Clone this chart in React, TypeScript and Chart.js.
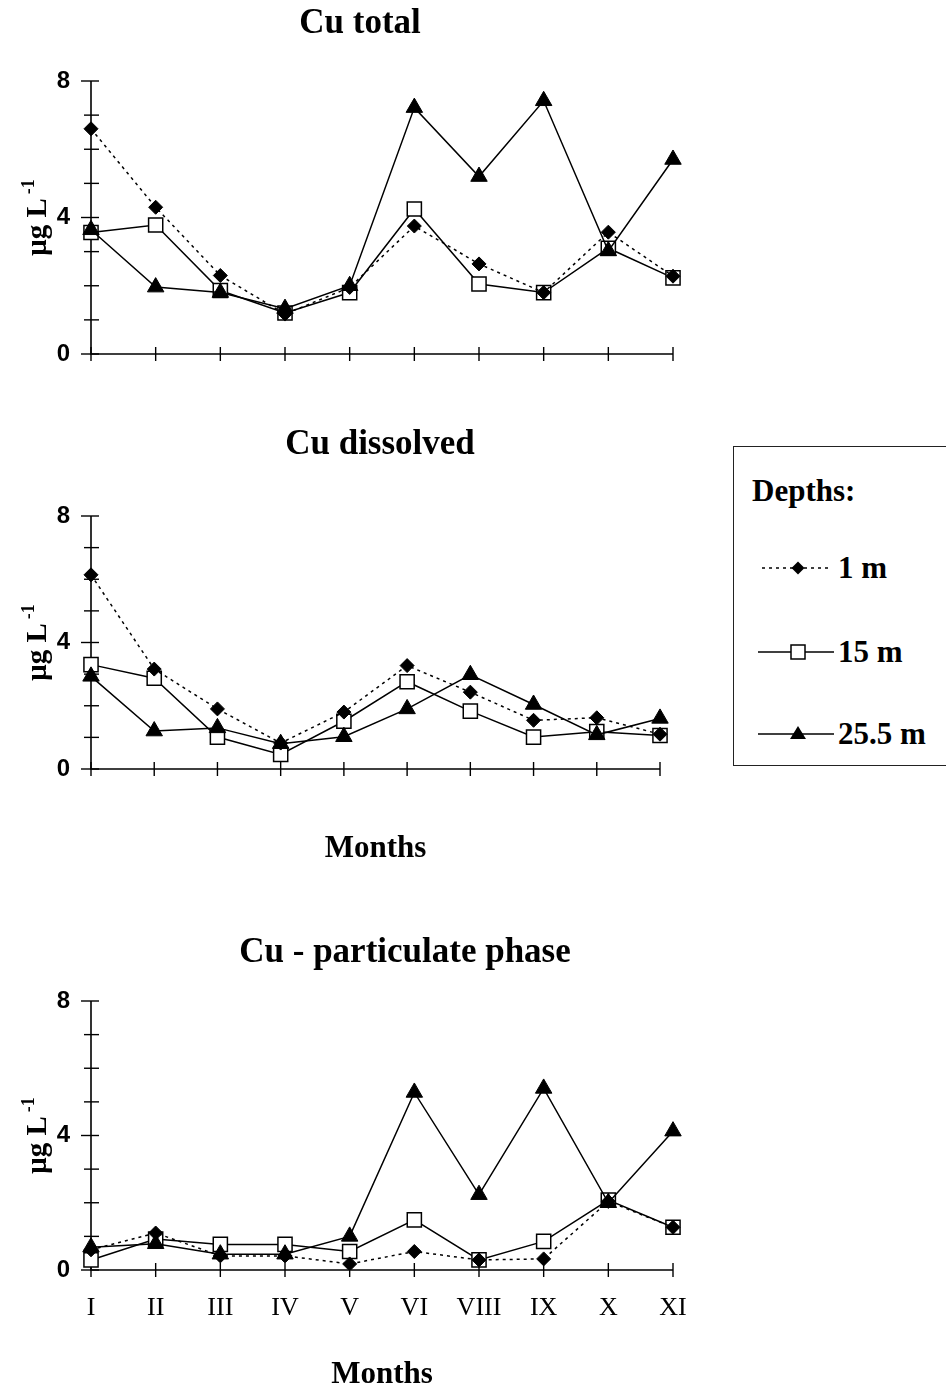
import React, { useEffect, useRef } from "react";
import { Chart, registerables } from "chart.js";
Chart.register(...registerables);

const months = ["I", "II", "III", "IV", "V", "VI", "VIII", "IX", "X", "XI"];
const yTickValues = [0, 4, 8];
const depthLabels = ["1 m", "15 m", "25.5 m"];
const panelTitles = ["Cu total", "Cu dissolved", "Cu - particulate phase"];
const xAxisTitle = "Months";
const yAxisMain = "μg L";
const yAxisSup = "-1";
const legendTitle = "Depths:";

const totalD1 = [6.6, 4.3, 2.3, 1.17, 1.95, 3.75, 2.64, 1.8, 3.57, 2.28];
const total15 = [3.56, 3.78, 1.86, 1.2, 1.8, 4.25, 2.05, 1.8, 3.1, 2.23];
const total255 = [3.64, 1.96, 1.8, 1.33, 2.0, 7.22, 5.2, 7.42, 3.02, 5.7];

const dissD1 = [6.14, 3.16, 1.9, 0.82, 1.8, 3.27, 2.43, 1.54, 1.62, 1.1];
const diss15 = [3.3, 2.87, 1.01, 0.46, 1.51, 2.76, 1.83, 1.01, 1.18, 1.06];
const diss255 = [2.93, 1.2, 1.3, 0.8, 1.02, 1.9, 2.98, 2.04, 1.08, 1.6];

const partD1 = [0.6, 1.1, 0.42, 0.42, 0.18, 0.55, 0.3, 0.33, 2.04, 1.27];
const part15 = [0.3, 0.92, 0.76, 0.76, 0.55, 1.49, 0.3, 0.85, 2.08, 1.27];
const part255 = [0.68, 0.78, 0.47, 0.47, 1.0, 5.28, 2.24, 5.4, 2.0, 4.13];

const SERIF = "'Liberation Serif', 'Times New Roman', serif";
const SANS = "'Liberation Sans', Arial, sans-serif";

const axisPlugin = {
  id: "crossAxes",
  beforeDatasetsDraw(chart: any) {
    const ctx = chart.ctx;
    const { left, right, bottom } = chart.chartArea;
    const ys = chart.scales.y;
    const xs = chart.scales.x;
    ctx.save();
    ctx.strokeStyle = "#000";
    ctx.lineWidth = 1.6;
    ctx.beginPath();
    ctx.moveTo(left, ys.getPixelForValue(ys.max));
    ctx.lineTo(left, bottom);
    ctx.lineTo(right, bottom);
    ctx.stroke();
    ctx.lineWidth = 1.4;
    for (let v = ys.min; v <= ys.max; v += 1) {
      const y = ys.getPixelForValue(v);
      const major = v % 4 === 0;
      ctx.beginPath();
      ctx.moveTo(left - (major ? 10 : 7), y);
      ctx.lineTo(left + 8, y);
      ctx.stroke();
    }
    for (let i = 0; i < months.length; i++) {
      const x = xs.getPixelForValue(i);
      ctx.beginPath();
      ctx.moveTo(x, bottom - 7);
      ctx.lineTo(x, bottom + 7);
      ctx.stroke();
    }
    ctx.restore();
  },
};

const yTitlePlugin = {
  id: "yTitleSup",
  afterDraw(chart: any) {
    const ctx = chart.ctx;
    const { top, bottom } = chart.chartArea;
    const mid = (top + bottom) / 2;
    ctx.save();
    ctx.translate(46, mid);
    ctx.rotate(-Math.PI / 2);
    ctx.fillStyle = "#000";
    ctx.textBaseline = "alphabetic";
    ctx.textAlign = "left";
    const mainFont = `bold 29px ${SERIF}`;
    const supFont = `bold 18px ${SERIF}`;
    ctx.font = mainFont;
    const w1 = ctx.measureText(yAxisMain).width;
    ctx.font = supFont;
    const w2 = ctx.measureText(yAxisSup).width;
    const total = w1 + 4 + w2;
    const start = -total / 2;
    ctx.font = mainFont;
    ctx.fillText(yAxisMain, start, 0);
    ctx.font = supFont;
    ctx.fillText(yAxisSup, start + w1 + 4, -12);
    ctx.restore();
  },
};

type PanelProps = {
  top: number;
  width: number;
  height: number;
  right: number;
  padTop: number;
  xHeight: number;
  showXLabels: boolean;
  showXTitle: boolean;
  d1: number[];
  d15: number[];
  d255: number[];
};

function Panel(p: PanelProps) {
  const ref = useRef<HTMLCanvasElement | null>(null);
  useEffect(() => {
    if (!ref.current) return;
    const chart = new Chart(ref.current, {
      type: "line",
      data: {
        labels: months,
        datasets: [
          {
            label: depthLabels[0],
            data: p.d1,
            borderColor: "#000",
            borderWidth: 1.5,
            borderDash: [3, 4],
            pointStyle: "rectRot",
            pointRadius: 7,
            pointBackgroundColor: "#000",
            pointBorderColor: "#000",
            pointBorderWidth: 1,
            tension: 0,
            order: 1,
          },
          {
            label: depthLabels[1],
            data: p.d15,
            borderColor: "#000",
            borderWidth: 1.5,
            pointStyle: "rect",
            pointRadius: 10,
            pointBackgroundColor: "#fff",
            pointBorderColor: "#000",
            pointBorderWidth: 1.5,
            tension: 0,
            order: 2,
          },
          {
            label: depthLabels[2],
            data: p.d255,
            borderColor: "#000",
            borderWidth: 1.5,
            pointStyle: "triangle",
            pointRadius: 9.5,
            pointBackgroundColor: "#000",
            pointBorderColor: "#000",
            pointBorderWidth: 1,
            tension: 0,
            order: 0,
          },
        ],
      },
      options: {
        responsive: false,
        animation: false,
        devicePixelRatio: 1,
        layout: { padding: { left: 0, right: p.width - p.right, top: p.padTop, bottom: 0 } },
        plugins: {
          legend: { display: false },
          tooltip: { enabled: false },
          title: { display: false },
        },
        scales: {
          x: {
            type: "category",
            offset: false,
            grid: { display: false, drawTicks: false },
            border: { display: false },
            afterFit: (s: any) => {
              s.height = p.xHeight;
            },
            ticks: {
              display: p.showXLabels,
              color: "#000",
              font: { family: SERIF, size: 26, weight: "normal" },
              padding: 23,
              maxRotation: 0,
              autoSkip: false,
            },
            title: {
              display: p.showXTitle,
              text: xAxisTitle,
              color: "#000",
              font: { family: SERIF, size: 31, weight: "bold", lineHeight: 1.2 },
              padding: 0,
            },
          },
          y: {
            min: 0,
            max: 8,
            grid: { display: false, drawTicks: false },
            border: { display: false },
            afterFit: (s: any) => {
              s.width = 91;
            },
            afterBuildTicks: (s: any) => {
              s.ticks = yTickValues.map((v) => ({ value: v }));
            },
            ticks: {
              color: "#000",
              font: { family: SANS, size: 24, weight: "bold" },
              padding: 21,
            },
          },
        },
      },
      plugins: [axisPlugin, yTitlePlugin],
    } as any);
    return () => chart.destroy();
  }, []);
  return (
    <canvas
      ref={ref}
      width={p.width}
      height={p.height}
      style={{ position: "absolute", left: 0, top: p.top, width: p.width, height: p.height }}
    />
  );
}

function PanelTitle({ text, cx, cy }: { text: string; cx: number; cy: number }) {
  return (
    <div
      style={{
        position: "absolute",
        left: cx - 300,
        top: cy - 21,
        width: 600,
        textAlign: "center",
        fontFamily: SERIF,
        fontWeight: "bold",
        fontSize: 35,
        lineHeight: "42px",
        color: "#000",
        whiteSpace: "nowrap",
      }}
    >
      {text}
    </div>
  );
}

function LegendMarker({ kind }: { kind: number }) {
  return (
    <svg width={80} height={24} style={{ position: "absolute", left: 24, top: -12 }}>
      {kind === 0 ? (
        <line x1={4} y1={12} x2={74} y2={12} stroke="#000" strokeWidth={1.5} strokeDasharray="3 4" />
      ) : (
        <line x1={0} y1={12} x2={76} y2={12} stroke="#000" strokeWidth={1.5} />
      )}
      {kind === 0 && <polygon points="40,5.5 46.5,12 40,18.5 33.5,12" fill="#000" />}
      {kind === 1 && <rect x={33} y={5} width={14} height={14} fill="#fff" stroke="#000" strokeWidth={1.5} />}
      {kind === 2 && <polygon points="40,4 48,17 32,17" fill="#000" />}
    </svg>
  );
}

export default function App() {
  const rowTops = [121, 205, 287];
  return (
    <div
      style={{
        position: "absolute",
        left: 0,
        top: 0,
        width: 946,
        height: 1392,
        overflow: "hidden",
        background: "#fff",
      }}
    >
      <Panel
        top={0}
        width={720}
        height={392}
        right={673}
        padTop={81}
        xHeight={38}
        showXLabels={false}
        showXTitle={false}
        d1={totalD1}
        d15={total15}
        d255={total255}
      />
      <Panel
        top={400}
        width={760}
        height={468}
        right={660}
        padTop={116}
        xHeight={99}
        showXLabels={false}
        showXTitle={true}
        d1={dissD1}
        d15={diss15}
        d255={diss255}
      />
      <Panel
        top={900}
        width={810}
        height={494}
        right={673}
        padTop={101}
        xHeight={124}
        showXLabels={true}
        showXTitle={true}
        d1={partD1}
        d15={part15}
        d255={part255}
      />
      <PanelTitle text={panelTitles[0]} cx={360} cy={22} />
      <PanelTitle text={panelTitles[1]} cx={380} cy={443} />
      <PanelTitle text={panelTitles[2]} cx={405} cy={951} />
      <div
        style={{
          position: "absolute",
          left: 733,
          top: 446,
          width: 240,
          height: 320,
          boxSizing: "border-box",
          border: "1.5px solid #222",
          borderRight: "none",
          background: "#fff",
          fontFamily: SERIF,
          fontWeight: "bold",
          color: "#000",
        }}
      >
        <div style={{ position: "absolute", left: 18, top: 26, fontSize: 31, lineHeight: "36px" }}>{legendTitle}</div>
        {depthLabels.map((lab, i) => (
          <div key={lab} style={{ position: "absolute", left: 0, top: rowTops[i], width: 230, height: 0 }}>
            <LegendMarker kind={i} />
            <div style={{ position: "absolute", left: 104, top: -18, fontSize: 31, lineHeight: "36px", whiteSpace: "nowrap" }}>
              {lab}
            </div>
          </div>
        ))}
      </div>
    </div>
  );
}
